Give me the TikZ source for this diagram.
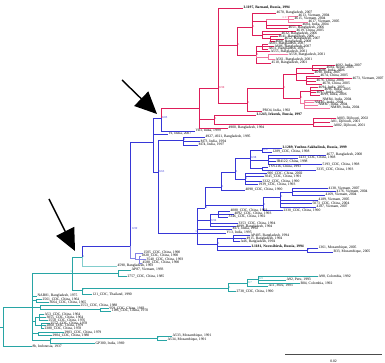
\documentclass[tikz,border=0pt]{standalone}
\usepackage{fontspec}
\setmainfont{Liberation Serif}
\usetikzlibrary{arrows.meta}

\definecolor{cred}{RGB}{222,30,90}
\definecolor{cpink}{RGB}{240,120,160}
\definecolor{cblue}{RGB}{55,55,215}
\definecolor{clblue}{RGB}{130,130,230}
\definecolor{cteal}{RGB}{40,165,165}
\definecolor{clteal}{RGB}{130,205,205}

\newcounter{lfno}
% leaf at tip (x,y), hung from parent
\newcommand{\leafat}[4]{\stepcounter{lfno}\edef\lfname{lf\arabic{lfno}}%
  \node[leaf] (\lfname) at (#2,#3) {#4};%
  \draw[br] (#1) |- (\lfname.west);}
% inner node of the tree
\newcommand{\inode}[4]{\coordinate (#2) at (#3,#4);\draw[br] (#1) |- (#2);}
% support value
\newcommand{\supval}[2]{\node[supp] (#1-sv) at (#1) {#2};}

\begin{document}
\begin{tikzpicture}
            [x=1pt, y=-1pt, line width=0.7pt,
             br/.style={color=cblue}, supc/.style={text=cblue},
             leaf/.style={anchor=west, inner sep=0.2pt, font=\fontsize{3.7}{4}\selectfont},
             supp/.style={supc, anchor=west, inner sep=0.3pt, xshift=0.4pt, font=\fontsize{3}{3.5}\selectfont},
             bigarrow/.style={color=black, line width=1.4pt, -{Triangle[length=22pt,width=20pt]}}]
            \useasboundingbox (0,0) rectangle (385,363);

            % teal part
            \begin{scope}[br/.style={color=cteal}, supc/.style={text=cteal}]
            \coordinate (stub) at (0,327);
            \coordinate (root) at (3,327);
            \draw[br] (stub) -- (root);
            \leafat{root}{32}{346}{8b, Indonesia, 1937}
            \inode{root}{A}{32}{307}
            \inode{A}{B}{72}{273}
            \node[supp, anchor=south east] (B-sv) at (B) {1};
            \inode{B}{I}{82}{257} \supval{I}{1}
            \inode{B}{AP}{118}{273}
            \leafat{AP}{131}{270}{AP87, Vietnam, 1993}
            \leafat{AP}{127}{276}{2757\_CDC, China, 1985}
            \inode{B}{T}{82}{290} \supval{T}{1}
            \leafat{T}{92}{294}{121\_CDC, Thailand, 1990}
            \inode{T}{PC}{228}{288} \supval{PC}{1}
            \leafat{PC}{236}{291}{2738\_CDC, China, 1990}
            \inode{PC}{PC1}{247}{283} \supval{PC1}{0.7}
            \leafat{PC1}{268}{286}{A11, Peru, 1993}
            \inode{PC1}{PC2}{258}{279} \supval{PC2}{0.9}
            \leafat{PC2}{318}{276}{A98, Colombia, 1992}
            \leafat{PC2}{286}{280}{A92, Peru, 1993}
            \leafat{PC2}{300}{283}{B04, Colombia, 1992}
            \leafat{A}{37}{296}{NAB81, Bangladesh, 1975}
            \inode{A}{Ta}{36}{300.5}
            \leafat{Ta}{42}{299}{2561\_CDC, China, 1964}
            \leafat{Ta}{49}{302}{3664\_CDC, China, 1965}
            \inode{A}{Tb}{40}{307}
            \leafat{Tb}{80}{305}{2553\_CDC, China, 1988}
            \inode{Tb}{Tb1}{100}{309.5}
            \leafat{Tb1}{109}{308}{959\_CDC, China, 1983}
            \leafat{Tb1}{111}{311}{1106\_CDC, China, 1970}
            \inode{A}{Tc}{35}{321.5}
            \inode{Tc}{Tc1}{39}{317}
            \leafat{Tc1}{44}{314}{A53\_CDC, China, 1964}
            \leafat{Tc1}{46}{317}{3055\_CDC, China, 1964}
            \leafat{Tc1}{48}{320}{2558\_CDC, China, 1976}
            \inode{Tc}{Tc2}{41}{325.5}
            \leafat{Tc2}{50}{323}{2552\_CDC, China, 1978}
            \leafat{Tc2}{46}{325.8}{2860\_CDC, China, 1979}
            \leafat{Tc2}{44}{328.6}{2380\_CDC, China, 1978}
            \inode{A}{Td}{38}{333.5}
            \leafat{Td}{64}{332}{2903\_CDC, China, 1979}
            \leafat{Td}{52}{335.5}{2904\_CDC, China, 1980}
            \inode{A}{Tm}{50}{340} \supval{Tm}{1}
            \leafat{Tm}{95}{343}{GP300, India, 1969}
            \inode{Tm}{Mz}{157}{338} \supval{Mz}{1}
            \leafat{Mz}{172}{336}{A533, Mozambique, 1991}
            \leafat{Mz}{167}{340}{A534, Mozambique, 1991}
            \end{scope}
            \begin{scope}[br/.style={color=clteal}]
            \leafat{I}{117}{266}{4590, Bangladesh, 1993}
            \end{scope}

            % blue part
            \begin{scope}[br/.style={color=cblue}, supc/.style={text=cblue}]
            \inode{I}{C}{130}{246}
            \node[supp] (C-sv) at (131,229) {0.99};
            \inode{C}{D}{153}{142}
            \inode{D}{E}{161}{118} \supval{E}{0.85}
            \leafat{D}{168}{134}{VI, India, 2007}
            \inode{D}{F}{158}{172} \supval{F}{0.63}
            \leafat{E}{195}{131}{VIII, India, 1999}
            \inode{F}{Fa}{183}{140} \supval{Fa}{1}
            \leafat{Fa}{205}{137}{4927, 4921, Bangladesh, 1995}
            \leafat{Fa}{200}{141.5}{M73, India, 1994}
            \leafat{Fa}{198}{145}{M74, India, 1997}
            \inode{F}{G}{197}{233}
            \node[supp, anchor=south east] (G-sv) at (G) {1};
            \inode{G}{Gu}{205}{208} \supval{Gu}{1}
            \inode{G}{Gm}{210}{220.5} \supval{Gm}{0.94}
            \leafat{G}{232}{229}{M71, India, 1992}
            \leafat{G}{226}{233}{Y13, India, 1995}
            \inode{G}{Gl}{217}{244} \supval{Gl}{1}
            \inode{Gu}{Gu1}{221}{187} \supval{Gu1}{1}
            \inode{Gu}{Gu2}{263}{205} \supval{Gu2}{1}
            \inode{Gu1}{P}{235}{172} \supval{P}{1}
            \leafat{Gu1}{245}{190}{4098\_CDC, China, 1990}
            \inode{P}{P1}{250}{158} \supval{P1}{0.98}
            \inode{P1}{P2}{262}{150} \supval{P2}{0.97}
            \leafat{P2}{282}{148}{\textbf{I-1289, Yuzhno-Sakhalinsk, Russia, 1999}}
            \leafat{P2}{272}{152}{1289\_CDC, China, 1998}
            \inode{P1}{P3}{268}{160}
            \leafat{P3}{326}{155}{4677, Bangladesh, 2000}
            \leafat{P3}{298}{158}{1433\_CDC, China, 1998}
            \leafat{P3}{276}{161.5}{IB4122, China, 1998}
            \leafat{P3}{322}{164.5}{5193\_CDC, China, 1998}
            \inode{P1}{P4}{262}{168.5}
            \leafat{P4}{268}{167}{TSY216, China, 1993}
            \leafat{P4}{316}{170}{3335\_CDC, China, 1993}
            \inode{P}{Q}{245}{179} \supval{Q}{1}
            \leafat{Q}{267}{173.5}{906\_CDC, China, 2002}
            \leafat{Q}{264}{176.5}{3045\_CDC, China, 1991}
            \leafat{Q}{262}{181.5}{3322\_CDC, China, 1990}
            \leafat{Q}{258}{184.5}{1939\_CDC, China, 1993}
            \inode{Gu2}{Gv0}{280}{197} \supval{Gv0}{1}
            \leafat{Gu2}{283}{210.5}{2330\_CDC, China, 1990}
            \inode{Gv0}{Gv}{292}{192}
            \leafat{Gv}{328}{188.5}{4138, Vietnam, 2007}
            \leafat{Gv}{336}{191.5}{4176, Vietnam, 2004}
            \leafat{Gv}{325}{195}{4169, Vietnam, 2004}
            \leafat{Gv0}{318}{200}{4189, Vietnam, 2005}
            \leafat{Gv0}{312}{203.5}{5073\_CDC, China, 2004}
            \leafat{Gv0}{316}{207}{4187, Vietnam, 2007}
            \inode{Gm}{Gm1}{218}{214}
            \leafat{Gm1}{230}{211}{4080\_CDC, China, 1993}
            \leafat{Gm1}{234}{214}{4092\_CDC, China, 1993}
            \leafat{Gm1}{228}{217}{3346\_CDC, China, 1992}
            \leafat{Gm}{238}{223.5}{3353\_CDC, China, 1994}
            \leafat{Gm}{236}{226.5}{4899, Bangladesh, 1994}
            \inode{Gl}{Gl1}{233}{238.5}
            \leafat{Gl1}{250}{235.5}{AP405, Bangladesh, 1994}
            \leafat{Gl1}{246}{238.5}{4915, Bangladesh, 1994}
            \leafat{Gl1}{240}{241.5}{A46, Bangladesh, 1994}
            \leafat{Gl}{251}{246.5}{\textbf{I-1181, Novosibirsk, Russia, 1994}}
            \inode{Gl}{Gl2}{307}{250} \supval{Gl2}{1}
            \leafat{Gl2}{318}{248}{1361, Mozambique, 2005}
            \leafat{Gl2}{333}{252}{B33, Mozambique, 2005}
            \end{scope}
            \begin{scope}[br/.style={color=clblue}]
            \inode{C}{Cb}{135}{258}
            \leafat{Cb}{143}{253}{1505\_CDC, China, 1990}
            \inode{Cb}{Cc}{139}{259.5}
            \leafat{Cc}{141}{256}{1820\_CDC, China, 1990}
            \leafat{Cc}{146}{259.5}{3540\_CDC, China, 1993}
            \leafat{Cc}{142}{263}{4588\_CDC, China, 1990}
            \end{scope}

            % red part
            \begin{scope}[br/.style={color=cred}, supc/.style={text=cred}]
            \inode{E}{Ra}{199}{108}
            \inode{Ra}{Rb}{218}{88} \supval{Rb}{0.90}
            \inode{Ra}{Rc}{214}{119} \supval{Rc}{1}
            \leafat{Ra}{228}{128}{4900, Bangladesh, 1994}
            \leafat{Rb}{243}{8}{\textbf{I-1197, Barnaul, Russia, 1994}}
            \inode{Rb}{Rd}{237}{45} \supval{Rd}{1}
            \inode{Rb}{Re}{247}{103} \supval{Re}{1}
            \inode{Rd}{Rf}{252}{27} \supval{Rf}{1}
            \inode{Rd}{Rg}{256}{55} \supval{Rg}{1}
            \leafat{Rf}{276}{13}{4670, Bangladesh, 2007}
            \inode{Rf}{Rf1}{266}{21}
            \leafat{Rf1}{302}{25}{4604, India, 2004}
            \leafat{Rf1}{288}{28}{4651, Bangladesh, 2006}
            \inode{Rf}{Rf3}{262}{35}
            \leafat{Rf3}{296}{31}{4619, China, 2005}
            \leafat{Rf3}{281}{34}{4632, Bangladesh, 2006}
            \inode{Rf3}{Rf4}{270}{38.5}
            \leafat{Rf4}{278}{36.5}{4641, Bangladesh, 2006}
            \leafat{Rf4}{284}{39}{4652, Bangladesh, 2007}
            \leafat{Rf4}{275}{41.5}{4660, Bangladesh, 2008}
            \inode{Rg}{Rg1}{262}{46}
            \leafat{Rg1}{268}{44}{A603, Bangladesh, 2007}
            \leafat{Rg1}{274}{46.5}{A606, Bangladesh, 2007}
            \leafat{Rg1}{268}{49}{A611, Bangladesh, 2007}
            \leafat{Rg}{270}{51.5}{A555, Bangladesh, 2001}
            \leafat{Rg}{271}{63}{4510, Bangladesh, 2001}
            \inode{Re}{Rh}{283}{88} \supval{Rh}{1}
            \leafat{Re}{262}{111}{PRO4, India, 1992}
            \inode{Rh}{Rh1}{296}{74}
            \inode{Rh}{Rh2}{300}{98} \supval{Rh2}{1}
            \inode{Rh1}{Rh1a}{312}{68}
            \leafat{Rh1a}{335}{65.5}{4682, India, 2007}
            \leafat{Rh1a}{326}{68}{4684, Nepal, 2005}
            \leafat{Rh1a}{318}{70.5}{4686, India, 2006}
            \leafat{Rh1}{314}{73}{4690, India, 2007}
            \inode{Rh1}{Rh1b}{306}{80}
            \leafat{Rh1b}{320}{76}{4674, China, 2005}
            \leafat{Rh1b}{352}{78.5}{4673, Vietnam, 2007}
            \leafat{Rh1b}{316}{81}{4676, China, 2006}
            \leafat{Rh1b}{322}{84}{4678, China, 2005}
            \inode{Rh2}{Rh2a}{310}{91}
            \leafat{Rh2a}{318}{87.5}{4694, India, 2005}
            \leafat{Rh2a}{324}{90}{4696, India, 2005}
            \leafat{Rh2a}{316}{92.5}{4697, India, 2006}
            \leafat{Rh2a}{320}{95}{4699, India, 2006}
            \inode{Rc}{Rj}{313}{124} \supval{Rj}{1}
            \leafat{Rc}{256}{115}{\textbf{I-1243, Irkutsk, Russia, 1997}}
            \leafat{Rj}{336}{118.5}{A803, Djibouti, 2002}
            \leafat{Rj}{330}{122}{A81, Djibouti, 2001}
            \leafat{Rj}{333}{126}{A802, Djibouti, 2001}
            \end{scope}
            \begin{scope}[br/.style={color=cpink}, supc/.style={text=cpink}]
            \inode{Rf1}{Rf2}{288}{19}
            \node[supp, anchor=south east] (Rf2-sv) at (Rf2) {0.97};
            \leafat{Rf2}{298}{16}{4613, Vietnam, 2004}
            \leafat{Rf2}{294}{19}{4615, Vietnam, 2004}
            \leafat{Rf2}{308}{22}{4617, Vietnam, 2005}
            \inode{Rg}{Rg2}{268}{57}
            \leafat{Rg2}{288}{54.5}{A558, Bangladesh, 2001}
            \leafat{Rg2}{275}{59.5}{A561, Bangladesh, 2001}
            \inode{Rh2}{Rh2b}{304}{103} \supval{Rh2b}{1}
            \leafat{Rh2b}{322}{100}{NMR4, India, 2004}
            \leafat{Rh2b}{314}{102.5}{NMR5, India, 2004}
            \leafat{Rh2b}{318}{105}{NMR7, India, 2004}
            \leafat{Rh2b}{330}{108}{NMR9, India, 2004}
            \end{scope}

            % arrows and scale
            \coordinate (arrAs) at (122,80);
            \coordinate (arrAe) at (157,114);
            \coordinate (arrBs) at (49,199);
            \coordinate (arrBe) at (75,251);
            \draw[bigarrow] (arrAs) -- (arrAe);
            \draw[bigarrow] (arrBs) -- (arrBe);
            \coordinate (sbL) at (285,354);
            \coordinate (sbR) at (382,354);
            \draw[color=black!70, line width=0.6pt] (sbL) -- (sbR)
              node[midway, below=2pt, text=black, font=\fontsize{3.7}{4}\selectfont] (sbtxt) {0.02};
        \end{tikzpicture}
\end{document}
